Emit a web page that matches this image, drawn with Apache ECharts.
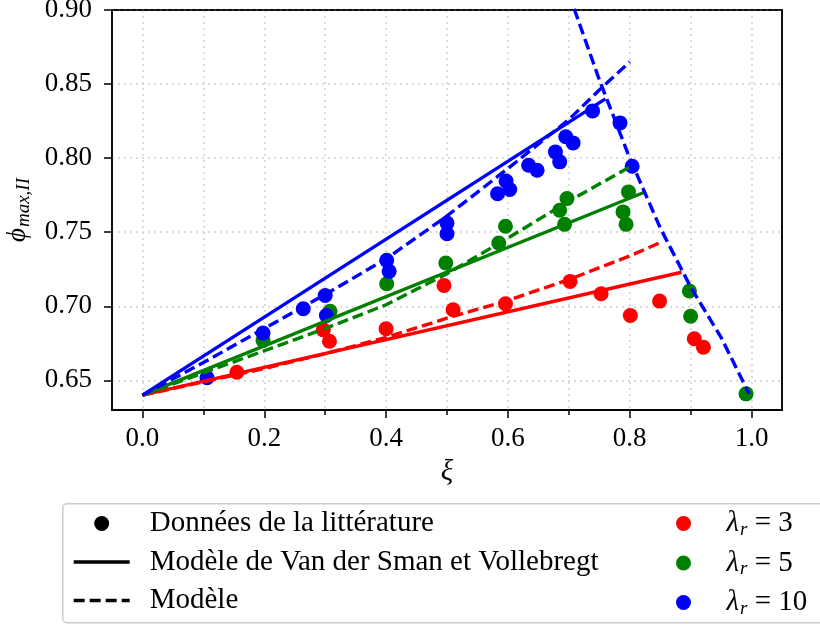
<!DOCTYPE html>
<html>
<head>
<meta charset="utf-8">
<script src="https://cdn.jsdelivr.net/npm/echarts@6/dist/echarts.min.js"></script>
<style>html,body{margin:0;padding:0;background:#fff;}#c{width:820px;height:625px;}</style>
</head>
<body>
<div id="c"></div>
<script>
// ---- data ----
const xTicks = [0, 0.1, 0.2, 0.3, 0.4, 0.5, 0.6, 0.7, 0.8, 0.9, 1.0];
const xLabels = [0, 0.2, 0.4, 0.6, 0.8, 1.0];
const yTicks = [0.65, 0.70, 0.75, 0.80, 0.85, 0.90];

// literature data (xi, phi)
const ptsRed = [[0.155,0.6555],[0.297,0.6841],[0.307,0.6764],[0.400,0.6848],[0.495,0.7141],[0.510,0.6977],[0.596,0.7017],[0.702,0.7168],[0.753,0.7085],[0.801,0.6938],[0.849,0.7035],[0.906,0.6781],[0.921,0.6724]];
const ptsGreen = [[0.198,0.6769],[0.308,0.6967],[0.401,0.7152],[0.498,0.7292],[0.585,0.7427],[0.596,0.7540],[0.685,0.7648],[0.693,0.7553],[0.697,0.7727],[0.789,0.7637],[0.794,0.7553],[0.798,0.7772],[0.898,0.7103],[0.900,0.6933],[0.991,0.6409]];
const ptsBlue = [[0.106,0.6518],[0.198,0.6819],[0.264,0.6983],[0.300,0.7073],[0.302,0.6938],[0.401,0.7310],[0.405,0.7236],[0.500,0.7562],[0.500,0.7490],[0.583,0.7760],[0.597,0.7846],[0.603,0.7788],[0.634,0.7952],[0.648,0.7918],[0.678,0.8042],[0.685,0.7975],[0.695,0.8144],[0.707,0.8103],[0.739,0.8319],[0.784,0.8238],[0.804,0.7945]];

// Van der Sman & Vollebregt model (solid)
const vdsRed = [[0,0.64],[0.885,0.723]];
const vdsGreen = [[0,0.64],[0.824,0.777]];
const vdsBlue = [[0,0.64],[0.76,0.840]];

// Model (dashed)
const modRed = [[0,0.64],[0.1,0.649],[0.2,0.658],[0.3,0.668],[0.4,0.679],[0.5,0.692],[0.6,0.704],[0.7,0.718],[0.8,0.734],[0.85,0.743]];
const modGreen = [[0,0.64],[0.1,0.655],[0.2,0.670],[0.3,0.685],[0.4,0.701],[0.5,0.722],[0.6,0.746],[0.7,0.771],[0.8,0.794]];
const modBlue = [[0,0.64],[0.1,0.662],[0.2,0.685],[0.3,0.708],[0.4,0.732],[0.5,0.761],[0.6,0.793],[0.7,0.826],[0.75,0.846],[0.8,0.865]];
// boundary (dashed blue)
const boundary = [[0.70,0.911],[0.75,0.853],[0.80,0.800],[0.85,0.753],[0.90,0.713],[0.95,0.679],[0.996,0.641]];

const FONT = 'Liberation Serif';
const FS = 27;
const LFS = 29;
const RED = '#ff0000', GREEN = '#008000', BLUE = '#0000ff';
const DASH = [11, 5];
const LW = 3.4;

const chart = echarts.init(document.getElementById('c'), null, {renderer: 'canvas'});

function lineSeries(name, data, color, dashed, z) {
  return {name: name, type: 'line', data: data, symbol: 'none', z: z || 3, silent: true,
    lineStyle: {color: color, width: LW, type: dashed ? DASH : 'solid'}, itemStyle: {color: color}};
}
function scatterSeries(name, data, color) {
  return {name: name, type: 'scatter', data: data, symbolSize: 15, z: 2, silent: true,
    itemStyle: {color: color, opacity: 1}};
}

const gridLine = {show: true, lineStyle: {color: '#d0d0d0', width: 1.5, type: [2, 4]}};
const spine = {show: true, onZero: false, lineStyle: {color: '#000', width: 1.5}};

const option = {
  animation: false,
  backgroundColor: '#fff',
  grid: {left: 112, top: 10, right: 38, bottom: 215, show: true, borderColor: '#000', borderWidth: 1.5,
    containLabel: false, outerBoundsMode: 'none'},
  xAxis: [
    {type: 'value', min: -0.05, max: 1.05,
      axisLine: spine,
      axisTick: {show: true, length: 5, customValues: xTicks, lineStyle: {color: '#000', width: 1.5}},
      axisLabel: {show: false},
      splitLine: gridLine},
    {type: 'value', min: -0.05, max: 1.05, position: 'bottom',
      axisLine: spine,
      axisTick: {show: true, length: 8, customValues: xLabels, lineStyle: {color: '#000', width: 1.5}},
      axisLabel: {show: true, customValues: xLabels, margin: 15, color: '#000', fontFamily: FONT, fontSize: FS,
        formatter: v => v.toFixed(1)},
      splitLine: {show: false},
      name: 'ξ', nameLocation: 'middle', nameGap: 48,
      nameTextStyle: {fontFamily: FONT, fontSize: 29, fontStyle: 'italic', color: '#000'}},
    {type: 'value', min: -0.05, max: 1.05, position: 'top',
      axisLine: spine, axisTick: {show: false}, axisLabel: {show: false}, splitLine: {show: false}}
  ],
  yAxis: [
    {type: 'value', min: 0.63, max: 0.90,
      axisLine: spine,
      axisTick: {show: true, length: 8, customValues: yTicks, lineStyle: {color: '#000', width: 1.5}},
      axisLabel: {show: true, customValues: yTicks, margin: 20, color: '#000', fontFamily: FONT, fontSize: FS,
        formatter: v => v.toFixed(2)},
      splitLine: gridLine,
      name: '{p|ϕ}{s|max,II}', nameLocation: 'middle', nameGap: 72, nameRotate: 90,
      nameTextStyle: {color: '#000', rich: {
        p: {fontFamily: FONT, fontSize: 27, fontStyle: 'italic', color: '#000'},
        s: {fontFamily: FONT, fontSize: 19, fontStyle: 'italic', color: '#000', padding: [12, 0, 0, 1]}
      }}},
    {type: 'value', min: 0.63, max: 0.90, position: 'right',
      axisLine: spine, axisTick: {show: false}, axisLabel: {show: false}, splitLine: {show: false}}
  ],
  graphic: [{type: 'rect', left: 62, top: 503, z: 0,
    shape: {width: 790, height: 119, r: 4},
    style: {fill: '#fff', stroke: '#cccccc', lineWidth: 1.5}}],
  legend: [
    {left: 72, top: 509, orient: 'vertical', padding: 0, itemGap: 9.5, itemWidth: 56, itemHeight: 15, z: 5,
      selectedMode: false,
      data: [
        {name: 'Données de la littérature', icon: 'circle'},
        {name: 'Modèle de Van der Sman et Vollebregt', itemStyle: {opacity: 0},
          lineStyle: {color: '#000', width: LW, type: 'solid'}},
        {name: 'Modèle', itemStyle: {opacity: 0},
          lineStyle: {color: '#000', width: LW, type: DASH}}
      ],
      textStyle: {fontFamily: FONT, fontSize: LFS, color: '#000', padding: [0, 0, 0, 15]}},
    {left: 676, top: 509, orient: 'vertical', padding: 0, itemGap: 9.5, itemWidth: 56, itemHeight: 15, z: 5,
      selectedMode: false,
      data: [{name: 'λr = 3', icon: 'circle'}, {name: 'λr = 5', icon: 'circle'}, {name: 'λr = 10', icon: 'circle'}],
      formatter: function (n) { return '{l|λ}{s|r}{t|' + n.slice(2) + '}'; },
      textStyle: {fontFamily: FONT, fontSize: LFS, color: '#000', padding: [0, 0, 0, 10],
        rich: {
          l: {fontFamily: FONT, fontSize: LFS, fontStyle: 'italic', color: '#000'},
          s: {fontFamily: FONT, fontSize: 19, fontStyle: 'italic', color: '#000', padding: [12, 0, 0, 1]},
          t: {fontFamily: FONT, fontSize: LFS, color: '#000'}
        }}}
  ],
  series: [
    scatterSeries('λr = 3', ptsRed, RED),
    scatterSeries('λr = 5', ptsGreen, GREEN),
    scatterSeries('λr = 10', ptsBlue, BLUE),
    lineSeries('vdsRed', vdsRed, RED, false),
    lineSeries('vdsGreen', vdsGreen, GREEN, false),
    lineSeries('vdsBlue', vdsBlue, BLUE, false),
    lineSeries('modRed', modRed, RED, true),
    lineSeries('modGreen', modGreen, GREEN, true),
    lineSeries('modBlue', modBlue, BLUE, true),
    lineSeries('boundary', boundary, BLUE, true, 4),
    // legend-only entries
    {name: 'Données de la littérature', type: 'scatter', data: [], symbolSize: 15, itemStyle: {color: '#000', opacity: 1}},
    {name: 'Modèle de Van der Sman et Vollebregt', type: 'line', data: [], symbol: 'none',
      lineStyle: {color: '#000', width: LW, type: 'solid'}, itemStyle: {color: '#000'}},
    {name: 'Modèle', type: 'line', data: [], symbol: 'none',
      lineStyle: {color: '#000', width: LW, type: DASH}, itemStyle: {color: '#000'}}
  ]
};
chart.setOption(option);
</script>
</body>
</html>
